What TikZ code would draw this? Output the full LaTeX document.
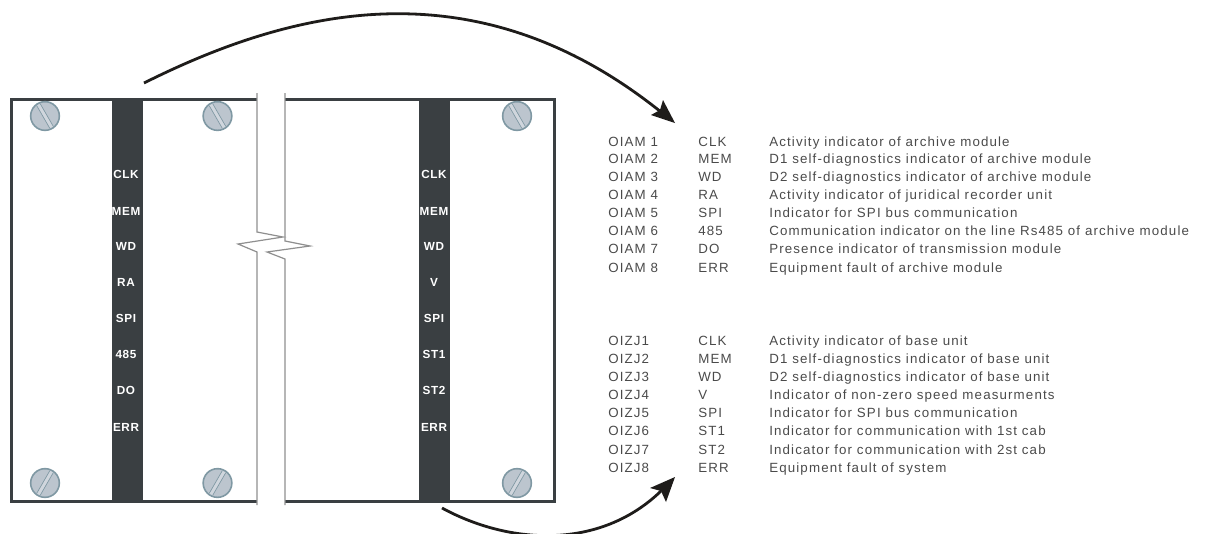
\documentclass[tikz,border=0pt]{standalone}
\usepackage{fontspec}
\setmainfont{Liberation Sans}
\newfontfamily\desc[LetterSpace=8.5]{Liberation Sans}
\newfontfamily\stripf[LetterSpace=5]{Liberation Sans}
\usetikzlibrary{arrows.meta}
\definecolor{panelc}{HTML}{3A3F42}
\definecolor{breakc}{HTML}{8F8F8F}
\definecolor{screwf}{HTML}{BCC5CE}
\definecolor{screwd}{HTML}{7F98A3}
\definecolor{textc}{HTML}{4A4A4A}
\definecolor{arrowc}{HTML}{1E1C1A}
\tikzset{
  panelline/.style={draw=panelc,line width=2.25pt,fill=white},
  strip/.style={fill=panelc,draw=none},
  breakline/.style={draw=breakc,line width=0.9pt,fill=none},
  striplabel/.style={text=white,font=\stripf\fontsize{8.8}{10}\selectfont\bfseries,inner sep=0pt,anchor=base},
  row/.style={text=textc,font=\desc\fontsize{10}{12}\selectfont,inner sep=0pt,anchor=base west},
  screwbody/.style={circle,minimum size=21.5pt,inner sep=0pt,fill=screwf,draw=screwd,line width=1.2pt},
  flow/.style={draw=arrowc,line width=2.1pt,fill=none},
  flowhead/.style={fill=arrowc,draw=none}
}
\newcommand{\screw}[4]{% name, x, y, slot angle
  \node[screwbody] (#1) at (#2,#3) {};
  \begin{scope}[shift={(#2,#3)},rotate=#4]
    \fill[white!30!screwf] (-1.8,-13) rectangle (1.8,13);
    \draw[screwd,line width=0.5pt] (-2,-13) -- (-2,13);
    \draw[screwd,line width=0.5pt] (2,-13) -- (2,13);
  \end{scope}
}
\begin{document}
\begin{tikzpicture}[x=0.75pt,y=-0.75pt]
\useasboundingbox (0,0) rectangle (1209,533);
\clip (0,0) rectangle (1209,533);
% panel
\draw[panelline] (11.5,99) rectangle (554.5,501);
% strips
\fill[strip] (112,98) rectangle (143,503);
\fill[strip] (419,98) rectangle (450,503);
% break
\fill[white] (257,90) rectangle (285,510);
\fill[white] (257,232) -- (283,237) -- (238,244) -- (257,252) -- (267,252) -- (310,246) -- (285,241) -- cycle;
\draw[breakline] (257,93) -- (257,232) -- (283,237) -- (238,244) -- (257,252) -- (257,505);
\draw[breakline] (285,93) -- (285,241) -- (310,246) -- (267,252) -- (285,259) -- (285,505);
% screws
\screw{s1}{45}{116}{30}
\screw{s2}{217.5}{116}{30}
\screw{s3}{517}{116}{30}
\screw{s4}{45}{483}{-30}
\screw{s5}{217.5}{483}{-30}
\screw{s6}{517}{483}{-30}
% strip labels
\foreach \t/\y/\n in {CLK/178/a,MEM/215/b,WD/250/c,RA/286/d,SPI/322/e,485/358/f,DO/394/g,ERR/431/h}
  \node[striplabel] (l\n) at (126,\y) {\t};
\foreach \t/\y/\n in {CLK/178/a,MEM/215/b,WD/250/c,V/286/d,SPI/322/e,ST1/358/f,ST2/394/g,ERR/431/h}
  \node[striplabel] (r\n) at (434,\y) {\t};
% rows
\foreach \a/\b/\c/\y/\n in {
 OIAM 1/CLK/Activity indicator of archive module/146/1,
 OIAM 2/MEM/D1 self-diagnostics indicator of archive module/163.5/2,
 OIAM 3/WD/D2 self-diagnostics indicator of archive module/181.5/3,
 OIAM 4/RA/Activity indicator of juridical recorder unit/199.5/4,
 OIAM 5/SPI/Indicator for SPI bus communication/217/5,
 OIAM 6/485/Communication indicator on the line Rs485 of archive module/235.5/6,
 OIAM 7/DO/Presence indicator of transmission module/253.5/7,
 OIAM 8/ERR/Equipment fault of archive module/272/8}{
  \node[row] (ta\n) at (608,\y) {\a};
  \node[row] (tb\n) at (698,\y) {\b};
  \node[row] (tc\n) at (769,\y) {\c};
}
\foreach \a/\b/\c/\y/\n in {
 OIZJ1/CLK/Activity indicator of base unit/345/1,
 OIZJ2/MEM/D1 self-diagnostics indicator of base unit/363/2,
 OIZJ3/WD/D2 self-diagnostics indicator of base unit/381/3,
 OIZJ4/V/Indicator of non-zero speed measurments/399/4,
 OIZJ5/SPI/Indicator for SPI bus communication/417/5,
 OIZJ6/ST1/Indicator for communication with 1st cab/435/6,
 OIZJ7/ST2/Indicator for communication with 2st cab/454/7,
 OIZJ8/ERR/Equipment fault of system/472/8}{
  \node[row] (ua\n) at (608,\y) {\a};
  \node[row] (ub\n) at (698,\y) {\b};
  \node[row] (uc\n) at (769,\y) {\c};
}
% arrows
\coordinate (topstart) at (144,83);
\coordinate (topend) at (661,112);
\coordinate (botstart) at (442,508);
\coordinate (botend) at (661,491);
\draw[flow] (topstart) .. controls (290,10) and (474,-38) .. (topend);
\fill[flowhead] (675,123) -- (663,100) -- (660,110) -- (651,115) -- cycle;
\draw[flow] (botstart) .. controls (510,545) and (600,550) .. (botend);
\fill[flowhead] (675,477) -- (650,488) -- (661,491) -- (666,502) -- cycle;
\end{tikzpicture}
\end{document}
